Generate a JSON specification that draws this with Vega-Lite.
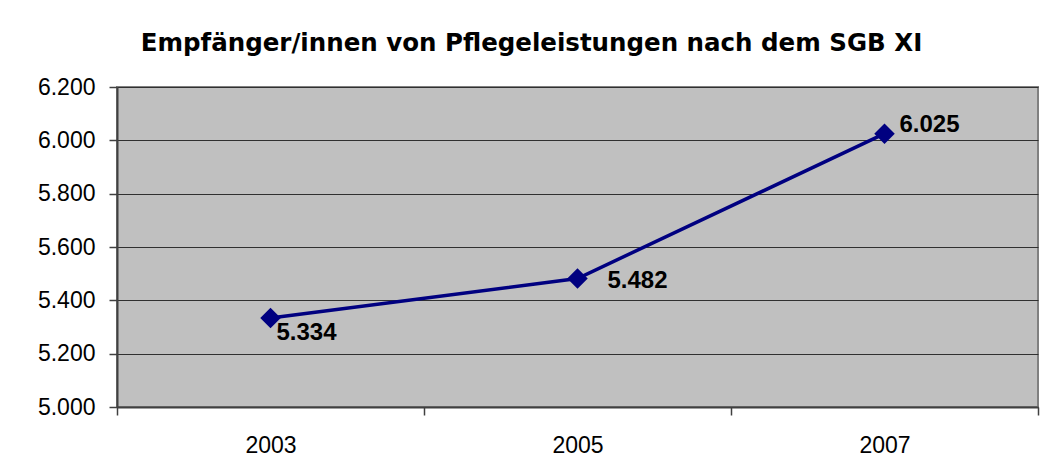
{
  "$schema": "https://vega.github.io/schema/vega-lite/v6.json",
  "autosize": {"type": "none"},
  "width": 921,
  "height": 320,
  "padding": {"left": 117, "top": 87, "right": 5, "bottom": 56},
  "background": "white",
  "title": {
    "text": "Empfänger/innen von Pflegeleistungen nach dem SGB XI",
    "font": "DejaVu Sans",
    "fontSize": 24.5,
    "fontWeight": "bold",
    "color": "black",
    "anchor": "middle",
    "frame": "group",
    "dx": -46,
    "offset": 20
  },
  "data": {
    "values": [
      {"year": "2003", "value": 5334},
      {"year": "2005", "value": 5482},
      {"year": "2007", "value": 6025}
    ]
  },
  "config": {
    "locale": {
      "number": {"decimal": ",", "thousands": ".", "grouping": [3], "currency": ["", " €"]}
    },
    "view": {"fill": "#C0C0C0", "stroke": "#808080", "strokeWidth": 2},
    "axis": {
      "labelFont": "Liberation Sans",
      "labelFontSize": 23,
      "labelColor": "black",
      "tickColor": "#404040",
      "domainColor": "#404040",
      "domainWidth": 2,
      "tickWidth": 1.5,
      "tickSize": 8,
      "title": null
    }
  },
  "encoding": {
    "x": {
      "field": "year",
      "type": "ordinal",
      "scale": {"type": "band", "paddingInner": 0, "paddingOuter": 0},
      "axis": {"labelAngle": 0, "tickBand": "extent", "labelPadding": 19, "grid": false}
    },
    "y": {
      "field": "value",
      "type": "quantitative",
      "scale": {"domain": [5000, 6200], "nice": false, "zero": false},
      "axis": {
        "values": [5000, 5200, 5400, 5600, 5800, 6000, 6200],
        "format": ",.0f",
        "labelPadding": 14,
        "grid": true,
        "gridColor": "#303030",
        "gridWidth": 1
      }
    }
  },
  "layer": [
    {
      "mark": {"type": "line", "color": "#000080", "strokeWidth": 3.5}
    },
    {
      "mark": {"type": "point", "shape": "diamond", "filled": true, "color": "#000080", "opacity": 1, "size": 420}
    },
    {
      "transform": [{"filter": "datum.year == '2003'"}],
      "mark": {"type": "text", "align": "left", "baseline": "middle", "dx": 6, "dy": 15, "font": "Liberation Sans", "fontSize": 24, "fontWeight": "bold", "color": "black"},
      "encoding": {"text": {"field": "value", "type": "quantitative", "format": ",.0f"}}
    },
    {
      "transform": [{"filter": "datum.year == '2005'"}],
      "mark": {"type": "text", "align": "left", "baseline": "middle", "dx": 30, "dy": 3, "font": "Liberation Sans", "fontSize": 24, "fontWeight": "bold", "color": "black"},
      "encoding": {"text": {"field": "value", "type": "quantitative", "format": ",.0f"}}
    },
    {
      "transform": [{"filter": "datum.year == '2007'"}],
      "mark": {"type": "text", "align": "left", "baseline": "middle", "dx": 15, "dy": -9, "font": "Liberation Sans", "fontSize": 24, "fontWeight": "bold", "color": "black"},
      "encoding": {"text": {"field": "value", "type": "quantitative", "format": ",.0f"}}
    }
  ]
}
